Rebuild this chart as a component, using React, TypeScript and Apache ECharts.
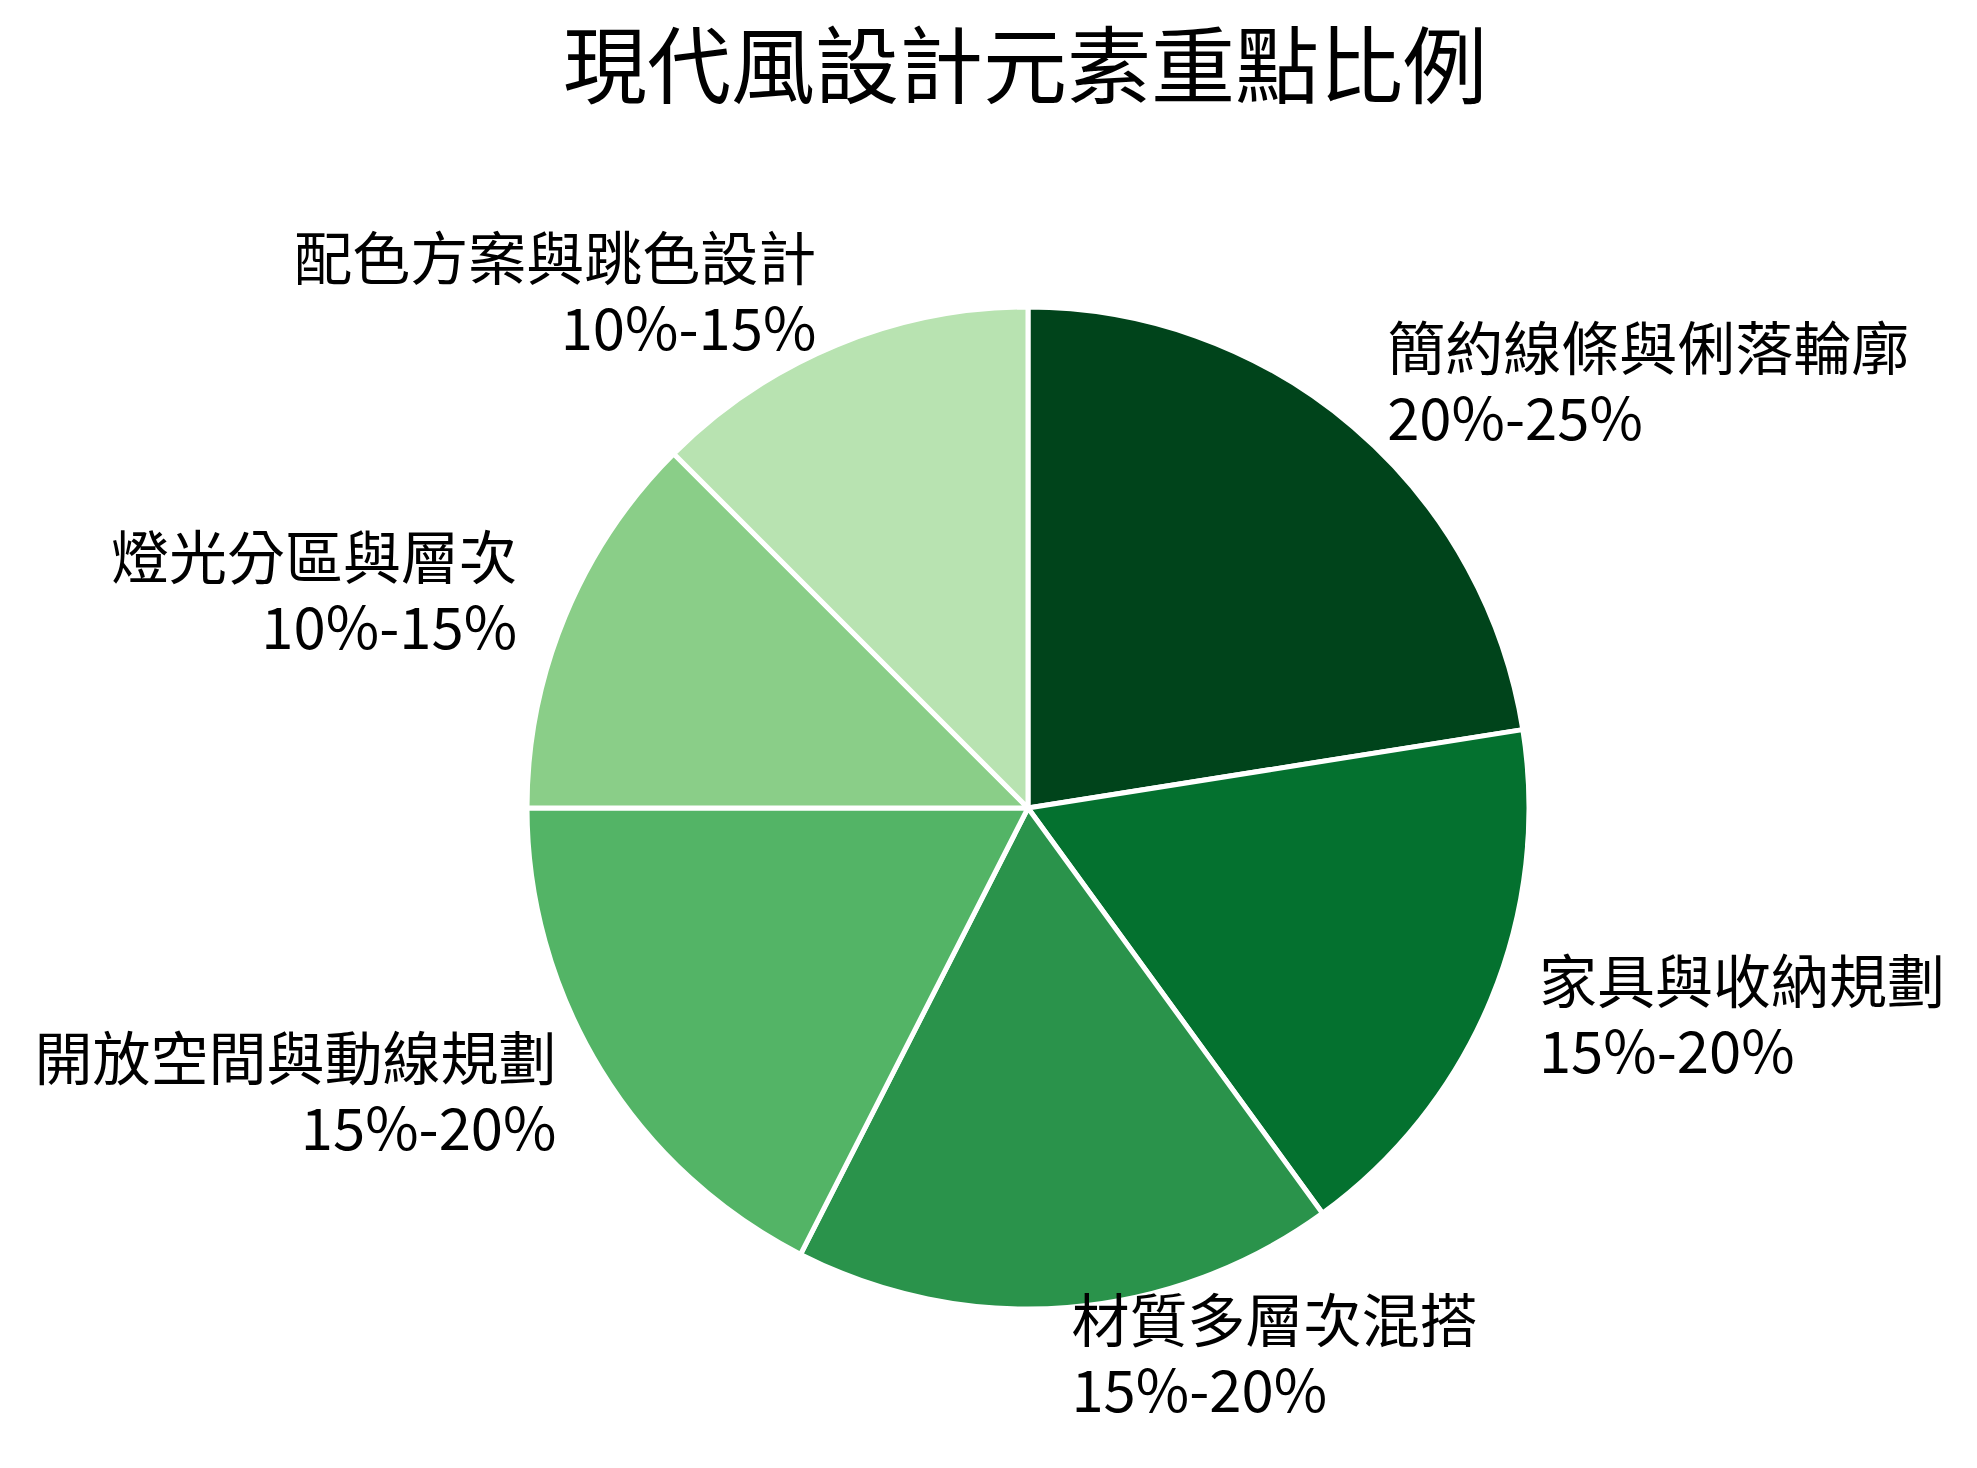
import React, { useEffect, useRef } from "react";
import * as echarts from "echarts";

const TITLE = "現代風設計元素重點比例";
const categories = [
  "簡約線條與俐落輪廓",
  "家具與收納規劃",
  "材質多層次混搭",
  "開放空間與動線規劃",
  "燈光分區與層次",
  "配色方案與跳色設計",
];
const ranges = ["20%-25%", "15%-20%", "15%-20%", "15%-20%", "10%-15%", "10%-15%"];
const values = [22.5, 17.5, 17.5, 17.5, 12.5, 12.5];
const colors = ["#00441b", "#04712f", "#2a934b", "#53b466", "#8ace88", "#b8e3b1"];

const FONT = '"Noto Sans CJK TC", "Noto Sans CJK SC", "Noto Sans", sans-serif';

export default function App() {
  const ref = useRef<HTMLDivElement>(null);
  useEffect(() => {
    if (!ref.current) return;
    const chart = echarts.init(ref.current, undefined, { renderer: "svg" });
    const data = categories.map((name, i) => ({
      name,
      value: values[i],
      range: ranges[i],
      itemStyle: { color: colors[i] },
    }));
    chart.setOption({
      animation: false,
      backgroundColor: "#ffffff",
      title: {
        text: TITLE,
        left: 1025,
        top: 18,
        textAlign: "center",
        padding: 0,
        textStyle: {
          fontFamily: FONT,
          fontSize: 84,
          fontWeight: "normal",
          color: "#000000",
        },
      },
      series: [
        {
          type: "pie",
          center: [1028, 808],
          radius: 501,
          startAngle: 90,
          clockwise: true,
          avoidLabelOverlap: false,
          itemStyle: { borderColor: "#ffffff", borderWidth: 5 },
          label: {
            show: true,
            position: "outside",
            distanceToLabelLine: 0,
            offset: [0, -7],
            fontFamily: FONT,
            fontSize: 58,
            lineHeight: 70,
            color: "#000000",
            formatter: (p: any) => `${p.name}\n${p.data.range}`,
          },
          labelLine: { show: false, length: 52, length2: 0 },
          emphasis: { disabled: true },
          data,
        },
      ],
    });
    return () => chart.dispose();
  }, []);
  return (
    <div
      ref={ref}
      style={{ position: "absolute", left: 0, top: 0, width: 1977, height: 1468 }}
    />
  );
}
